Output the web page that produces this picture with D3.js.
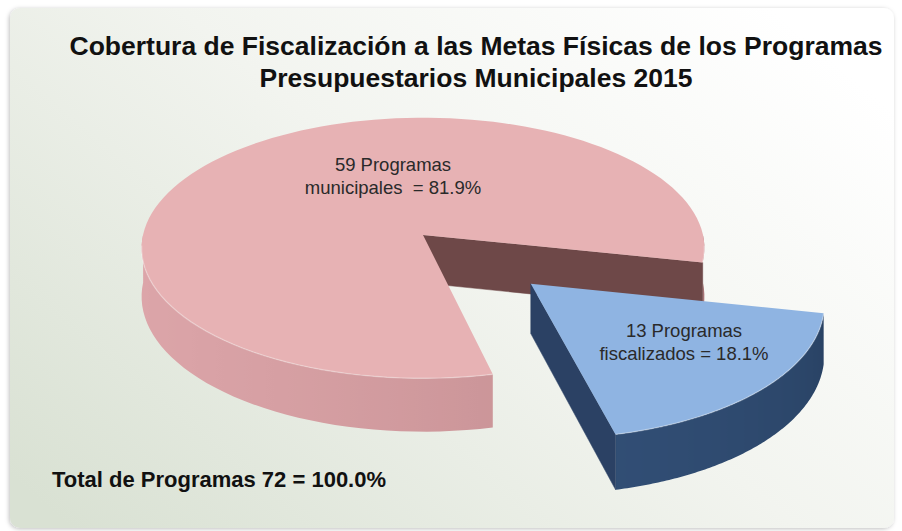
<!DOCTYPE html>
<html>
<head>
<meta charset="utf-8">
<title>Cobertura de Fiscalización</title>
<script src="https://cdnjs.cloudflare.com/ajax/libs/d3/7.8.5/d3.min.js"></script>
<style>
  html, body { margin: 0; padding: 0; background: #ffffff; }
  svg { display: block; font-family: "Liberation Sans", Arial, sans-serif; }
</style>
</head>
<body>
<div id="chart"></div>
<script>
// Chart data
var titleLines = ["Cobertura de Fiscalización a las Metas Físicas de los Programas",
                  "Presupuestarios Municipales 2015"];
var categories = ["Programas municipales", "Programas fiscalizados"];
var programCounts = [59, 13];
var sliceLabels = [["59 Programas", "municipales  = 81.9%"],
                   ["13 Programas", "fiscalizados = 18.1%"]];
var explodeAmounts = [0, 0.52];
var totalLabel = "Total de Programas 72 = 100.0%";

var width = 902;
var height = 531;

var svg = d3.select("#chart").append("svg")
    .attr("width", width)
    .attr("height", height);

var defs = svg.append("defs");

// background of the card, white at the right fading to a grey green at the left
var bg = defs.append("linearGradient").attr("id", "cardBg")
    .attr("x1", "1").attr("y1", "0.2").attr("x2", "0").attr("y2", "0.9");
bg.append("stop").attr("offset", "0").attr("stop-color", "#ffffff");
bg.append("stop").attr("offset", "0.45").attr("stop-color", "#f2f4ef");
bg.append("stop").attr("offset", "1").attr("stop-color", "#d9e1d3");

var shadow = defs.append("filter").attr("id", "cardShadow")
    .attr("x", "-5%").attr("y", "-5%").attr("width", "110%").attr("height", "110%");
shadow.append("feDropShadow").attr("dx", -1).attr("dy", 1).attr("stdDeviation", 2)
    .attr("flood-color", "#000").attr("flood-opacity", 0.25);

svg.append("rect")
    .attr("x", 10).attr("y", 8)
    .attr("width", 884).attr("height", 520)
    .attr("rx", 10)
    .attr("fill", "url(#cardBg)")
    .attr("filter", "url(#cardShadow)");

// Projection of the tilted pie (ground plane X/Z, height Y) with a bit of perspective
var cx = 423, cy = 235;
var camDist = 10;
var xScale = d3.scaleLinear().domain([-1, 1]).range([cx - 280, cx + 280]);
var zScale = d3.scaleLinear().domain([-1, 1]).range([cy - 129, cy + 129]);
var hScale = d3.scaleLinear().domain([0, 1]).range([0, 48]);

function project(X, Z, Y) {
  var p = camDist / (camDist - Z);
  return [xScale(X * p), zScale(Z * p) + hScale(Y * p)];
}

var pie = d3.pie().sort(null)
    .startAngle(167 * Math.PI / 180)
    .endAngle(167 * Math.PI / 180 + 2 * Math.PI);

var arcs = pie(programCounts);

var topColors = ["#e7b2b4", "#8fb4e2"];
var wallDark = ["#a87477", "#263e5e"];
var wallLight = ["#dca5a9", "#36557f"];
var radialColors = ["#6e4848", "#2b4164"];

var line = d3.line();

arcs.forEach(function(a, i) {
  // pie angle 0 is 12 o'clock (far side); convert to ground angle
  var t0 = a.startAngle - Math.PI / 2;
  var t1 = a.endAngle - Math.PI / 2;
  var mid = (t0 + t1) / 2;
  var ox = explodeAmounts[i] * Math.cos(mid);
  var oz = explodeAmounts[i] * Math.sin(mid);
  var g = svg.append("g").attr("class", "slice");

  var steps = 120;
  var angles = d3.range(steps + 1).map(function(k) { return t0 + (t1 - t0) * k / steps; });
  var shade = d3.interpolateRgb(wallDark[i], wallLight[i]);
  function wallTone(t) { return Math.pow(0.5 * (1 - Math.cos(t)), 0.4); }

  // split the arc into runs that face the viewer
  function runs(test) {
    var out = [], cur = [];
    angles.forEach(function(t) {
      if (test(t)) cur.push(t);
      else { if (cur.length > 1) out.push(cur); cur = []; }
    });
    if (cur.length > 1) out.push(cur);
    return out;
  }

  var pieces = runs(function(t) { return Math.sin(t) > -0.01; });
  pieces.sort(function(p, q) { return d3.mean(p, Math.sin) - d3.mean(q, Math.sin); });

  pieces.forEach(function(ts, j) {
    var topArc = ts.map(function(t) { return project(ox + Math.cos(t), oz + Math.sin(t), 0); });
    var botArc = ts.map(function(t) { return project(ox + Math.cos(t), oz + Math.sin(t), 1); }).reverse();
    var xs = topArc.map(function(p) { return p[0]; });
    var x0 = d3.min(xs), x1 = d3.max(xs);
    var id = "wall" + i + "_" + j;
    var grad = defs.append("linearGradient").attr("id", id)
        .attr("gradientUnits", "userSpaceOnUse")
        .attr("x1", x0).attr("x2", x1).attr("y1", 0).attr("y2", 0);
    var stops = ts.map(function(t, k) { return {x: xs[k], c: shade(wallTone(t))}; })
        .sort(function(p, q) { return p.x - q.x; });
    grad.selectAll("stop").data(stops).enter().append("stop")
        .attr("offset", function(s) { return x1 > x0 ? (s.x - x0) / (x1 - x0) : 0; })
        .attr("stop-color", function(s) { return s.c; });
    g.append("path").attr("d", line(topArc.concat(botArc)) + "Z")
        .attr("fill", "url(#" + id + ")");
  });

  // radial walls that face the viewer
  [[t0, t0 - Math.PI / 2], [t1, t1 + Math.PI / 2]].forEach(function(w) {
    if (Math.sin(w[1]) <= 0) return;
    var pts = [
      project(ox, oz, 0),
      project(ox + Math.cos(w[0]), oz + Math.sin(w[0]), 0),
      project(ox + Math.cos(w[0]), oz + Math.sin(w[0]), 1),
      project(ox, oz, 1)
    ];
    g.append("path").attr("d", line(pts) + "Z")
        .attr("fill", radialColors[i])
        .attr("stroke", radialColors[i]).attr("stroke-width", 0.5);
  });

  // top face
  var topPts = [project(ox, oz, 0)].concat(angles.map(function(t) {
    return project(ox + Math.cos(t), oz + Math.sin(t), 0);
  }));
  g.append("path").attr("d", line(topPts) + "Z")
      .attr("fill", topColors[i]);

  // soft light rim on the front edge
  runs(function(t) { return Math.sin(t) > 0.05; }).forEach(function(ts) {
    var rimPts = ts.map(function(t) { return project(ox + Math.cos(t), oz + Math.sin(t), 0); });
    g.append("path").attr("d", line(rimPts))
        .attr("fill", "none")
        .attr("stroke", "#ffffff").attr("stroke-opacity", 0.3)
        .attr("stroke-width", 1.4);
  });
});

// slice labels
var labelPos = [[393, 171], [684, 337]];
sliceLabels.forEach(function(lines, i) {
  var txt = svg.append("text")
      .attr("text-anchor", "middle")
      .attr("font-size", 18.5)
      .attr("fill", "#2a2a2a")
      .attr("xml:space", "preserve");
  lines.forEach(function(s, j) {
    txt.append("tspan")
        .attr("x", labelPos[i][0])
        .attr("y", labelPos[i][1] + j * 22.5)
        .text(s);
  });
});

// title
svg.selectAll("text.title").data(titleLines).enter().append("text")
    .attr("class", "title")
    .attr("x", 476)
    .attr("y", function(d, i) { return 55 + i * 32; })
    .attr("text-anchor", "middle")
    .attr("font-size", 26.5)
    .attr("font-weight", "bold")
    .attr("fill", "#111")
    .text(function(d) { return d; });

svg.append("text")
    .attr("x", 52).attr("y", 487)
    .attr("font-size", 22)
    .attr("font-weight", "bold")
    .attr("fill", "#111")
    .text(totalLabel);
</script>
</body>
</html>
